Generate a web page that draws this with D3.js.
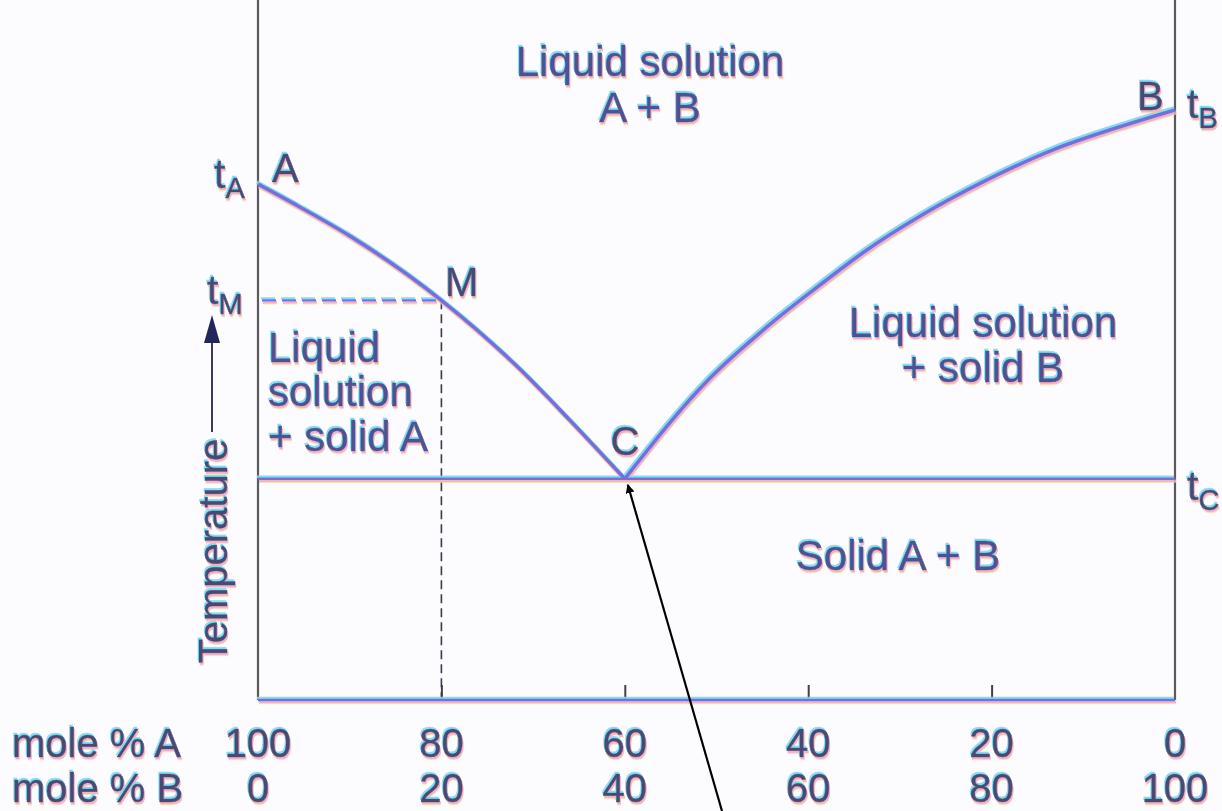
<!DOCTYPE html>
<html>
<head>
<meta charset="utf-8">
<script src="https://cdn.jsdelivr.net/npm/d3@7"></script>
<style>
  html, body { margin: 0; padding: 0; background: #fcfbfd; }
  svg { display: block; }
  text { font-family: "Liberation Sans", Arial, Helvetica, sans-serif; }
</style>
</head>
<body>
<svg id="chart" width="1222" height="811"></svg>
<script>
// Composition axis (mole % B) and tick labels for both components
const tickB = [0, 20, 40, 60, 80, 100];
const labelsA = ["100", "80", "60", "40", "20", "0"];
const labelsB = ["0", "20", "40", "60", "80", "100"];
const innerTicks = [20, 40, 60, 80];

// Liquidus curves: [mole % B, temperature] (arbitrary temperature units)
const liquidusA = [[0, 73.7], [4.6, 70.4], [10, 66.3], [20, 57.1], [28.3, 47.6], [33.7, 40.4], [40, 31.6]];
const liquidusB = [[40, 31.6], [49.3, 46.0], [55.5, 53.3], [61.0, 59.0], [66.4, 64.3], [71.9, 68.9], [79.5, 74.3], [86.7, 78.6], [94.0, 81.9], [100, 84.3]];

// Key points
const pointM = [20, 57.1];
const eutecticT = 31.6;
const eutecticX = 40;

const svg = d3.select("#chart");
const x = d3.scaleLinear().domain([0, 100]).range([258, 1175]);
const y = d3.scaleLinear().domain([0, 100]).range([700, 0]);

const line = d3.line().x(d => x(d[0])).y(d => y(d[1])).curve(d3.curveMonotoneX);

// Print-registration fringe: cyan above, pink and yellow below
const defs = svg.append("defs");
function fringeFilter(id, k) {
  const f = defs.append("filter").attr("id", id)
    .attr("filterUnits", "userSpaceOnUse")
    .attr("x", 0).attr("y", 0).attr("width", 1222).attr("height", 811);
  const layers = [
    ["yel", 0.5, 3.0 * k, "#f4cf90", 0.55],
    ["pink", 0.8, 1.8 * k, "#eea0c8", 0.75],
    ["cyan", -1.0, -1.7 * k, "#78d8f4", 0.9]
  ];
  layers.forEach(l => {
    f.append("feOffset").attr("in", "SourceAlpha").attr("dx", l[1]).attr("dy", l[2]).attr("result", l[0] + "o");
    f.append("feFlood").attr("flood-color", l[3]).attr("flood-opacity", l[4]).attr("result", l[0] + "f");
    f.append("feComposite").attr("in", l[0] + "f").attr("in2", l[0] + "o").attr("operator", "in").attr("result", l[0]);
  });
  const m = f.append("feMerge");
  ["yel", "pink", "cyan", "SourceGraphic"].forEach(n => m.append("feMergeNode").attr("in", n));
}
fringeFilter("fringe", 1);
fringeFilter("fringeLine", 1);

const marks = svg.append("g");
const lines = svg.append("g").attr("filter", "url(#fringeLine)");
const texts = svg.append("g").attr("filter", "url(#fringe)");

const lineColor = "#7370d8";
const textColor = "#4e5290";
const darkText = "#4a4a72";

function label(str, tx, ty, size, anchor, color) {
  const c = color || textColor;
  return texts.append("text")
    .attr("x", tx).attr("y", ty)
    .attr("font-size", size)
    .attr("text-anchor", anchor || "start")
    .attr("fill", c).attr("stroke", c).attr("stroke-width", 0.5)
    .text(str);
}
function tSub(sub, tx, ty) {
  const t = texts.append("text").attr("x", tx).attr("y", ty)
    .attr("font-size", 41).attr("fill", darkText)
    .attr("stroke", darkText).attr("stroke-width", 0.5);
  t.append("tspan").text("t");
  t.append("tspan").attr("font-size", 29).attr("dy", 10).text(sub);
}

// Frame: vertical temperature axes (grey)
marks.append("line").attr("x1", x(0)).attr("x2", x(0)).attr("y1", 0).attr("y2", y(0))
  .attr("stroke", "#5a5a5e").attr("stroke-width", 2.2);
marks.append("line").attr("x1", x(100)).attr("x2", x(100)).attr("y1", 0).attr("y2", y(0))
  .attr("stroke", "#5a5a5e").attr("stroke-width", 2.2);

// Composition ticks
const axis = d3.axisTop(x).tickValues(innerTicks).tickSize(15).tickFormat("");
const axG = marks.append("g").attr("transform", `translate(0,${y(0)})`).call(axis);
axG.select(".domain").remove();
axG.selectAll(".tick line").attr("stroke", "#404050").attr("stroke-width", 2);

// Bottom axis line and eutectic line
lines.append("line").attr("x1", x(0)).attr("x2", x(100)).attr("y1", y(0)).attr("y2", y(0))
  .attr("stroke", lineColor).attr("stroke-width", 2.6);
lines.append("line").attr("x1", x(0)).attr("x2", x(100)).attr("y1", y(eutecticT)).attr("y2", y(eutecticT))
  .attr("stroke", lineColor).attr("stroke-width", 2.6);

// Dashed construction lines through M
lines.append("line").attr("x1", x(0) + 4).attr("x2", x(pointM[0])).attr("y1", y(pointM[1])).attr("y2", y(pointM[1]))
  .attr("stroke", lineColor).attr("stroke-width", 2.2).attr("stroke-dasharray", "14,6");
marks.append("line").attr("x1", x(pointM[0])).attr("x2", x(pointM[0])).attr("y1", y(pointM[1])).attr("y2", y(0))
  .attr("stroke", "#3a3a55").attr("stroke-width", 1.6).attr("stroke-dasharray", "9,5");

// Liquidus curves
lines.append("path").attr("d", line(liquidusA)).attr("fill", "none")
  .attr("stroke", lineColor).attr("stroke-width", 3.6);
lines.append("path").attr("d", line(liquidusB)).attr("fill", "none")
  .attr("stroke", lineColor).attr("stroke-width", 3.6);

// Region labels
label("Liquid solution", 650, 76, 42, "middle");
label("A + B", 650, 122, 42, "middle");
label("Liquid solution", 983, 337, 42, "middle");
label("+ solid B", 983, 382, 42, "middle");
label("Liquid", 268, 362, 42, "start");
label("solution", 268, 406, 42, "start");
label("+ solid A", 268, 451, 42, "start");
label("Solid A + B", 898, 570, 42, "middle");

// Point labels
label("A", 272, 182, 40, "start", darkText);
label("M", 445, 296, 40, "start", darkText);
label("C", 625, 455, 40, "middle", darkText);
label("B", 1137, 110, 40, "start", darkText);
tSub("A", 214, 188);
tSub("M", 207, 304);
tSub("B", 1187, 118);
tSub("C", 1187, 500);

// Temperature axis title with upward arrow
label("Temperature", 227, 551, 40, "middle", darkText)
  .attr("transform", "rotate(-90, 227, 551)");
marks.append("line").attr("x1", 212).attr("x2", 212).attr("y1", 432).attr("y2", 340)
  .attr("stroke", "#3a3a60").attr("stroke-width", 2);
marks.append("path").attr("d", "M212,315 L204,343 L220,343 Z").attr("fill", "#23265a");

// Composition labels
label("mole % A", 12, 757, 40, "start", darkText);
label("mole % B", 12, 802, 40, "start", darkText);
tickB.forEach((v, i) => {
  label(labelsA[i], x(v), 757, 40, "middle", darkText);
  label(labelsB[i], x(v), 802, 40, "middle", darkText);
});

// Pointer to the eutectic point
defs.append("marker").attr("id", "head").attr("viewBox", "0 0 12 12")
  .attr("refX", 11).attr("refY", 6).attr("markerWidth", 9).attr("markerHeight", 9)
  .attr("orient", "auto").attr("markerUnits", "userSpaceOnUse")
  .append("path").attr("d", "M0,0 L12,6 L0,12 Z").attr("fill", "#000");
svg.append("line")
  .attr("x1", 722).attr("y1", 811)
  .attr("x2", x(eutecticX) + 3).attr("y2", y(eutecticT) + 6)
  .attr("stroke", "#000").attr("stroke-width", 2.2)
  .attr("marker-end", "url(#head)");
</script>
</body>
</html>
